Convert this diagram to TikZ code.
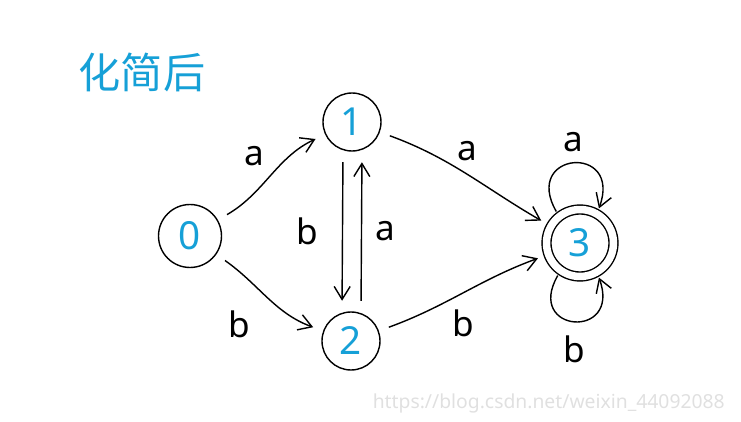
\documentclass[tikz,border=0pt]{standalone}
\usepackage{fontspec}
\setmainfont{Noto Sans}
\newfontfamily\cjkfont{Noto Sans CJK SC}
\usepackage{xcolor}
\usetikzlibrary{arrows.meta,positioning,calc}
\definecolor{inkblue}{RGB}{22,160,215}
\tikzset{
  statenode/.style={draw,circle,line width=0.8pt,minimum size=1.16cm,
    font=\fontsize{22}{24}\selectfont,text=inkblue},
  acceptnode/.style={statenode,double,double distance=0.15cm,minimum size=1.34cm},
  trans/.style={-{Straight Barb[length=2.6mm,width=3.2mm]},line width=0.8pt,
    shorten >=6pt,shorten <=6pt},
  translabel/.style={font=\fontsize{20}{22}\selectfont}
}
\begin{document}
\begin{tikzpicture}[x=0.02cm,y=-0.02cm]
  \useasboundingbox (0,0) rectangle (741,422);
  \node[text=inkblue,font=\cjkfont\fontsize{24}{26}\selectfont] (title) at (142,72) {化简后};
  \node[statenode,minimum size=1.26cm] (s0) at (190,236) {0};
  \node[statenode] (s1) at (352,122) {1};
  \node[statenode] (s2) at (351,341) {2};
  \node[acceptnode] (s3) at (580,243) {3};
  % edges
  \draw[trans] (s0) to[out=30,in=205] node[translabel,above left=2pt and 0pt] {a} (s1);
  \draw[trans] (s0) to[out=-35,in=160] node[translabel,below left=4pt and 6pt] {b} (s2);
  \draw[trans] ([xshift=-0.18cm]s1.south) -- node[translabel,left=10pt] {b} ([xshift=-0.18cm]s2.north);
  \draw[trans] ([xshift=0.2cm]s2.north) -- node[translabel,right=4pt] {a} ([xshift=0.2cm]s1.south);
  \draw[trans] (s1) to[out=-20,in=150] node[translabel,above=4pt] {a} (s3);
  \draw[trans] (s2) to[out=20,in=200] node[translabel,below=6pt] {b} (s3);
  \draw[trans,shorten >=3pt,shorten <=3pt] (s3.128) to[out=120,in=70,looseness=5]
    node[translabel,above=3pt] {a} (s3.60);
  \draw[trans,shorten >=3pt,shorten <=3pt] (s3.235) to[out=-120,in=-70,looseness=5]
    node[translabel,below=5pt] {b} (s3.300);
  \node[text=black!12,font=\fontsize{11}{12}\selectfont,anchor=east] (mark) at (731,403) {https://blog.csdn.net/weixin\_44092088};
\end{tikzpicture}
\end{document}
